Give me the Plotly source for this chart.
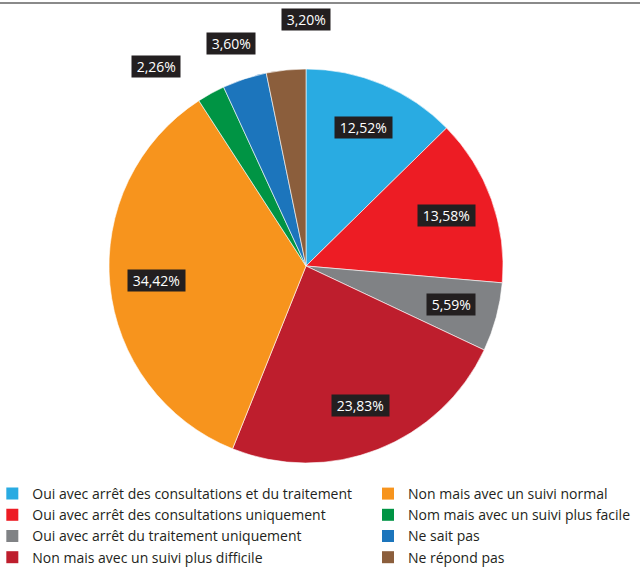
import math
import plotly.graph_objects as go

categories = [
    "Oui avec arrêt des consultations et du traitement",
    "Oui avec arrêt des consultations uniquement",
    "Oui avec arrêt du traitement uniquement",
    "Non mais avec un suivi plus difficile",
    "Non mais avec un suivi normal",
    "Nom mais avec un suivi plus facile",
    "Ne sait pas",
    "Ne répond pas",
]
values = [12.52, 13.58, 5.59, 23.83, 34.42, 2.26, 3.60, 3.20]
labels_txt = ["12,52%", "13,58%", "5,59%", "23,83%", "34,42%", "2,26%", "3,60%", "3,20%"]
colors = ["#29abe2", "#ed1c24", "#808285", "#be1e2d", "#f7941d", "#009444", "#1c75bc", "#8b5e3c"]

W, H = 640, 569
CX, CY, R = 306, 266, 197  # pie centre and radius in pixels
FONT = "Open Sans"

fig = go.Figure()
fig.add_trace(go.Pie(
    labels=categories, values=values, sort=False, direction="clockwise", rotation=0,
    marker=dict(colors=colors, line=dict(color="white", width=0.6)),
    textinfo="none", hoverinfo="label+percent", showlegend=False,
    domain=dict(x=[(CX - R) / W, (CX + R) / W], y=[1 - (CY + R) / H, 1 - (CY - R) / H]),
))

# legend entries (two columns)
for i, (c, col) in enumerate(zip(categories, colors)):
    fig.add_trace(go.Scatter(
        x=[None], y=[None], mode="markers", name=c,
        marker=dict(symbol="square", size=12, color=col),
        legend="legend" if i < 4 else "legend2", showlegend=True,
    ))

# percentage labels with dark boxes
total = sum(values)
cum = 0
mids = []
for v in values:
    mids.append((cum + v / 2) / total * 2 * math.pi)
    cum += v
small = [i for i, v in enumerate(values) if v / total <= 0.04]
annotations = []
for i, (v, t) in enumerate(zip(values, labels_txt)):
    if i in small:
        k = len(small) - 1 - small.index(i)  # stack outward from the top
        x = CX - 75 * k
        y = CY - R - 49 + 23 * k
    else:
        r = 0.76 * R
        x = CX + r * math.sin(mids[i])
        y = CY - r * math.cos(mids[i])
    annotations.append(dict(
        x=x / W, y=1 - y / H, xref="paper", yref="paper", text=" " + t + " ", showarrow=False,
        bgcolor="#231f20", font=dict(color="white", size=14, family=FONT),
        borderpad=1, xanchor="center", yanchor="middle",
    ))

legend_common = dict(
    orientation="v", font=dict(size=14, family=FONT, color="#231f20"),
    bgcolor="rgba(0,0,0,0)", yanchor="top", xanchor="left",
    itemclick=False, itemdoubleclick=False, tracegroupgap=0,
)
fig.update_layout(
    width=W, height=H, margin=dict(l=0, r=0, t=0, b=0, autoexpand=False),
    paper_bgcolor="white", plot_bgcolor="white",
    xaxis=dict(visible=False), yaxis=dict(visible=False),
    annotations=annotations,
    legend=dict(x=-0.012, y=1 - 478 / H, **legend_common),
    legend2=dict(x=368 / W, y=1 - 478 / H, **legend_common),
    shapes=[dict(type="line", xref="paper", yref="paper", x0=0, x1=1,
                 y0=1 - 3 / H, y1=1 - 3 / H, line=dict(color="#8a8a8a", width=2))],
)

fig.write_html("out.html")
